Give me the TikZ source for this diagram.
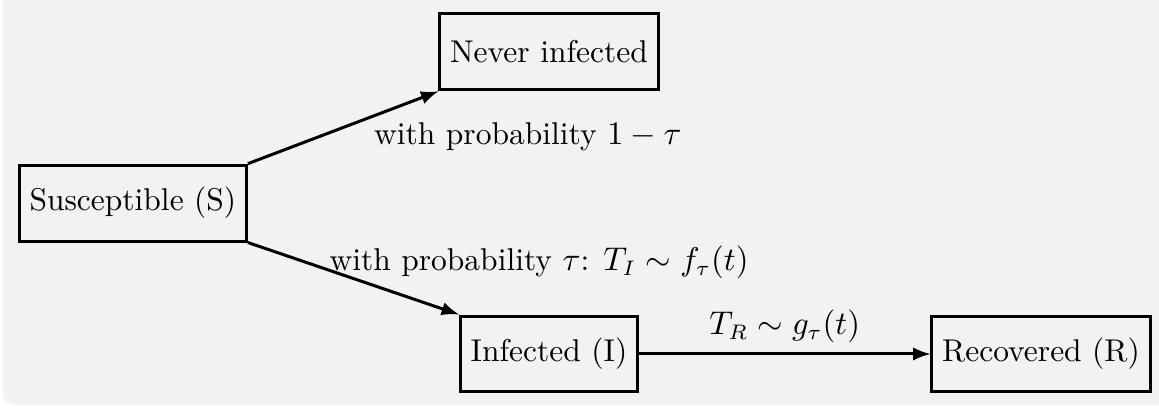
\documentclass[tikz,border=0pt]{standalone}
\usetikzlibrary{positioning}
\definecolor{bggray}{HTML}{F2F2F2}
\begin{document}
\begin{tikzpicture}[x=1pt,y=1pt,font=\fontsize{10.5}{12.6}\selectfont,
  state/.style={draw, line width=1pt, minimum height=25.3pt, inner xsep=3.4pt},
  flow/.style={->, >=latex, line width=1pt}]
  % background
  \useasboundingbox (0,0) rectangle (386.33,136);
  \fill[bggray, rounded corners=3.5pt] (1,1) rectangle (395,145);

  % Draw states
  \node[state] (S) at (44.3,68.3) {Susceptible (S)};
  \node[state] (N) at (183,118.7) {Never infected};
  \node[state] (I) at (183,18) {Infected (I)};
  \node[state] (R) at (347,18) {Recovered (R)};

  % Draw transitions
  \draw[flow] (S.north east) -- (N.south west);
  \draw[flow] (S.south east) -- (I.north west);
  \draw[flow] (I) -- node[above] (tr) {$T_R \sim g_\tau(t)$} (R);

  % Add labels
  \node (pn) at (176,90.3) {with probability $1-\tau$};
  \node (pi) at (179.7,48.7) {with probability $\tau$: $T_I \sim f_\tau(t)$};
\end{tikzpicture}
\end{document}
